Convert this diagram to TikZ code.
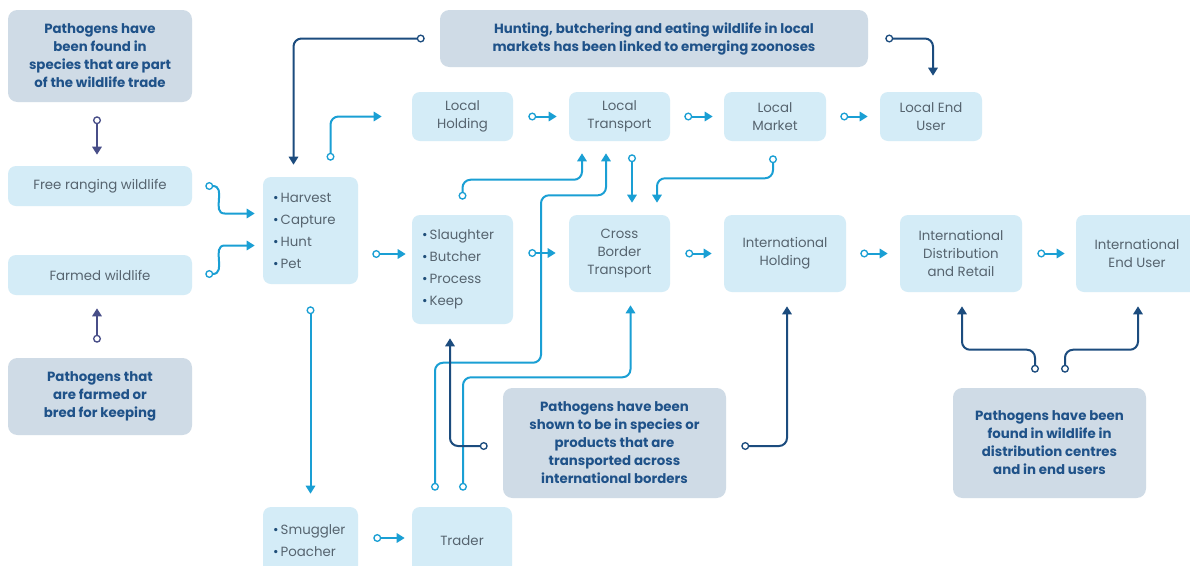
\documentclass[tikz,border=0pt]{standalone}
\usepackage{fontspec}
\setmainfont{Poppins}
\usetikzlibrary{arrows.meta,calc}
\definecolor{lbox}{HTML}{D4ECF7}
\definecolor{gbox}{HTML}{CFDBE6}
\definecolor{gtext}{HTML}{1F5289}
\definecolor{ltext}{HTML}{56646F}
\definecolor{cyanl}{HTML}{1A9FD4}
\definecolor{darkl}{HTML}{1C4C7E}
\definecolor{purpl}{HTML}{484E88}
\definecolor{bul}{HTML}{1F4E79}
\newcommand{\bulit}{{\color{bul}•}\,}
\begin{document}
\begin{tikzpicture}[x=0.75pt,y=-0.75pt,
  sz/.style 2 args={minimum width=#1*0.75pt, minimum height=#2*0.75pt},
  lightbox/.style={fill=lbox, rounded corners=6pt, text=ltext, align=center, inner sep=0pt,
    font=\fontsize{10}{13.5}\selectfont},
  graybox/.style={fill=gbox, rounded corners=7pt, text=gtext, align=center, inner sep=0pt,
    font=\bfseries\fontsize{10}{13.5}\selectfont},
  listbox/.style={lightbox, align=left, inner xsep=7.5pt, font=\fontsize{10}{16.5}\selectfont},
  conn/.style={line width=1.5pt, rounded corners=6pt,
    {Circle[open,fill=white,length=6pt,width=6pt,line width=1pt]}-{Triangle[length=6pt,width=7pt]}},
  cy/.style={conn, draw=cyanl},
  dk/.style={conn, draw=darkl},
  pu/.style={conn, draw=purpl},
]
\path[use as bounding box, fill=white] (0,0) rectangle (1190,565);
\clip (0,0) rectangle (1190,565);

% boxes
\node[graybox, sz={184}{92}] (p1) at (100,56) {Pathogens have\\been found in\\species that are part\\of the wildlife trade};
\node[lightbox, sz={184}{40}] (free) at (100,186) {Free ranging wildlife};
\node[lightbox, sz={184}{40}] (farmed) at (100,275) {Farmed wildlife};
\node[graybox, sz={184}{77}] (p2) at (100,396.5) {Pathogens that\\are farmed or\\bred for keeping};
\node[listbox, sz={95}{107}, text width=75*0.75pt] (harv) at (310.5,230.5) {\bulit Harvest\\\bulit Capture\\\bulit Hunt\\\bulit Pet};
\node[graybox, sz={428}{57}] (banner) at (654,38.5) {Hunting, butchering and eating wildlife in local\\markets has been linked to emerging zoonoses};
\node[lightbox, sz={101}{49}] (lhold) at (462.5,116.5) {Local\\Holding};
\node[lightbox, sz={101}{49}] (ltrans) at (619.5,116.5) {Local\\Transport};
\node[lightbox, sz={102}{49}] (lmarket) at (775,116.5) {Local\\Market};
\node[lightbox, sz={102}{49}] (lend) at (931,116.5) {Local End\\User};
\node[listbox, sz={101}{109}, text width=81*0.75pt] (slaught) at (462.5,269.5) {\bulit Slaughter\\\bulit Butcher\\\bulit Process\\\bulit Keep};
\node[lightbox, sz={101}{77}] (cbt) at (619.5,253.5) {Cross\\Border\\Transport};
\node[lightbox, sz={122}{77}] (ihold) at (785,253.5) {International\\Holding};
\node[lightbox, sz={122}{77}] (idist) at (961,253.5) {International\\Distribution\\and Retail};
\node[lightbox, sz={122}{77}] (iend) at (1137,253.5) {International\\End User};
\node[graybox, sz={223}{110}] (p3) at (614.5,443) {Pathogens have been\\shown to be in species or\\products that are\\transported across\\international borders};
\node[graybox, sz={193}{110}] (p4) at (1049.5,443) {Pathogens have been\\found in wildlife in\\distribution centres\\and in end users};
\node[listbox, sz={95}{68}, text width=75*0.75pt] (smug) at (310.5,541) {\bulit Smuggler\\\bulit Poacher};
\node[lightbox, sz={100}{68}] (trader) at (462,541) {Trader};

% connectors
\draw[pu] ($(p1.south)+(-3,14)$) -- ($(free.north)+(-3,-11)$);
\draw[pu] ($(p2.north)+(-3,-15)$) -- ($(farmed.south)+(-3,13)$);
\draw[cy] ($(free.east)+(13,0)$) .. controls +(22,0) and +(-22,0) .. ($(harv.west)+(-30,-17)$) -- ($(harv.west)+(-8,-17)$);
\draw[cy] ($(farmed.east)+(13,-1)$) .. controls +(22,0) and +(-22,0) .. ($(harv.west)+(-30,15)$) -- ($(harv.west)+(-8,15)$);
\draw[cy] ($(harv.east)+(14,23.5)$) -- ($(slaught.west)+(-6,-15.5)$);
\draw[cy] ($(harv.north)+(20,-16)$) |- ($(lhold.west)+(-30,0)$);
\draw[dk] ($(banner.west)+(-15,0)$) -| ($(harv.north)+(-17,-12)$);
\draw[dk] ($(banner.east)+(17,0)$) -| ($(lend.north)+(2,-16)$);
\draw[cy] ($(lhold.east)+(15,0)$) -- ($(ltrans.west)+(-12,0)$);
\draw[cy] ($(ltrans.east)+(14,0)$) -- ($(lmarket.west)+(-11,0)$);
\draw[cy] ($(lmarket.east)+(14,0)$) -- ($(lend.west)+(-12,0)$);
\draw[cy] ($(ltrans.south)+(12.5,13)$) -- ($(cbt.north)+(12.5,-12)$);
\draw[cy] ($(lmarket.south)+(-2,14)$) -- ($(lmarket.south)+(-2,37)$) -| ($(cbt.north)+(37.5,-12)$);
\draw[cy] ($(slaught.north)+(0,-15)$) -- ($(slaught.north)+(0,-35)$) -| ($(ltrans.south)+(-37.5,12)$);
\draw[cy] ($(trader.north)+(-27,-16)$) |- ($(trader.north)+(79,-144)$) |- ($(ltrans.south)+(-13.5,54)$) -- ($(ltrans.south)+(-13.5,12)$);
\draw[cy] ($(trader.north)+(1,-16)$) |- ($(cbt.south)+(11,85)$) -- ($(cbt.south)+(11,13)$);
\draw[dk] ($(p3.west)+(-15,3)$) -| ($(slaught.south)+(-12.5,14)$);
\draw[dk] ($(p3.east)+(15,3)$) -| ($(ihold.south)+(2,14)$);
\draw[dk] ($(p4.north)+(-14.5,-15)$) -- ($(p4.north)+(-14.5,-38)$) -| ($(idist.south)+(1,14)$);
\draw[dk] ($(p4.north)+(15.5,-15)$) -- ($(p4.north)+(15.5,-38)$) -| ($(iend.south)+(1,14)$);
\draw[cy] ($(harv.south)+(0,22)$) -- ($(smug.north)+(0,-13)$);
\draw[cy] ($(smug.east)+(15,-3)$) -- ($(trader.west)+(-7,-3)$);
\draw[cy] ($(slaught.east)+(15,-16.5)$) -- ($(cbt.west)+(-13,-0.5)$);
\draw[cy] ($(cbt.east)+(15,0)$) -- ($(ihold.west)+(-12,0)$);
\draw[cy] ($(ihold.east)+(14,0)$) -- ($(idist.west)+(-12,0)$);
\draw[cy] ($(idist.east)+(15,0)$) -- ($(iend.west)+(-11,0)$);
\end{tikzpicture}
\end{document}
